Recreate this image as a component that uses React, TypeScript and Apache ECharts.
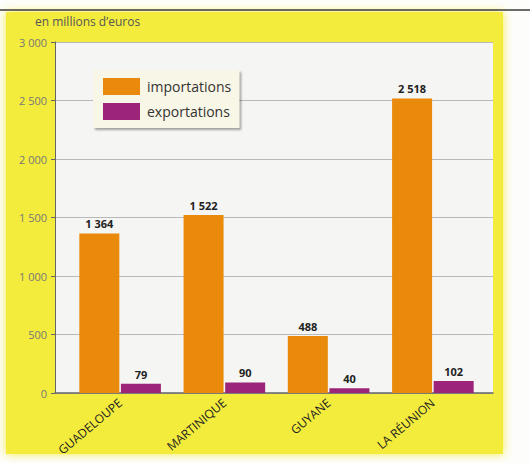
import React, { useEffect, useRef } from "react";
import * as echarts from "echarts";

const categories = ["GUADELOUPE", "MARTINIQUE", "GUYANE", "LA RÉUNION"];
const importations = [1364, 1522, 488, 2518];
const exportations = [79, 90, 40, 102];
const seriesNames = ["importations", "exportations"];
const unitLabel = "en millions d’euros";
const yMin = 0;
const yMax = 3000;
const yStep = 500;

const FONT = "'Open Sans', 'Noto Sans', sans-serif";

function fmt(v: number): string {
  return String(v).replace(/\B(?=(\d{3})+(?!\d))/g, " ");
}

export default function App() {
  const ref = useRef<HTMLDivElement>(null);

  useEffect(() => {
    if (!ref.current) return;
    const chart = echarts.init(ref.current, undefined, { renderer: "svg" });
    chart.setOption({
      animation: false,
      backgroundColor: "#FDFDFB",
      textStyle: { fontFamily: FONT },
      graphic: [
        {
          type: "rect",
          z: -10,
          shape: { x: 6, y: 12, width: 497, height: 442 },
          style: { fill: "#F4EC3C", shadowBlur: 10, shadowColor: "#F4EC3C" },
        },
        {
          type: "line",
          z: 10,
          shape: { x1: 0, y1: 10, x2: 530, y2: 10 },
          style: { stroke: "#3a3a3a", lineWidth: 1.5 },
        },
        {
          type: "text",
          z: 10,
          x: 35,
          y: 15,
          style: { text: unitLabel, fontSize: 12, fill: "#555", fontFamily: FONT },
        },
      ],
      legend: {
        data: seriesNames,
        orient: "vertical",
        left: 93,
        top: 70,
        itemWidth: 37,
        itemHeight: 17,
        itemGap: 8,
        padding: [8, 8, 8, 10],
        icon: "rect",
        backgroundColor: "#F8F6E6",
        shadowColor: "rgba(0,0,0,0.35)",
        shadowBlur: 2,
        shadowOffsetX: 2,
        shadowOffsetY: 2,
        textStyle: { fontSize: 14, color: "#333", fontFamily: FONT, padding: [0, 0, 0, 2] },
      },
      grid: [
        { left: 55, right: 37, top: 42, bottom: 70, show: true, backgroundColor: "#F5F5F3", borderWidth: 0, containLabel: false, outerBoundsMode: "none" },
        { left: 68, right: 45, top: 42, bottom: 70, containLabel: false, outerBoundsMode: "none" },
      ],
      xAxis: [
        {
          type: "category",
          gridIndex: 0,
          data: categories,
          axisLine: { lineStyle: { color: "#666", width: 1.5 } },
          axisTick: { show: false },
          axisLabel: { show: false },
        },
        {
          type: "category",
          gridIndex: 1,
          data: categories,
          axisLine: { show: false },
          axisTick: { show: false },
          axisLabel: { rotate: 40, margin: 8, fontSize: 12, color: "#222", fontFamily: FONT },
        },
      ],
      yAxis: [
        {
          type: "value",
          gridIndex: 0,
          min: yMin,
          max: yMax,
          interval: yStep,
          axisLine: { show: true, lineStyle: { color: "#666", width: 1 } },
          axisTick: { show: true, length: 4, lineStyle: { color: "#666" } },
          axisLabel: { formatter: (v: number) => fmt(v), fontSize: 11, color: "#777", margin: 8, fontFamily: FONT },
          splitLine: { show: true, lineStyle: { color: "#B8B8B8", width: 1 } },
        },
        {
          type: "value",
          gridIndex: 1,
          min: yMin,
          max: yMax,
          interval: yStep,
          show: false,
          splitLine: { show: false },
        },
      ],
      series: [
        {
          name: seriesNames[0],
          type: "bar",
          xAxisIndex: 1,
          yAxisIndex: 1,
          data: importations,
          barWidth: 40,
          barGap: "4%",
          itemStyle: { color: "#E98A0C" },
          label: {
            show: true,
            position: "top",
            distance: 4,
            formatter: (p: any) => fmt(p.value),
            fontWeight: "bold",
            fontSize: 11,
            color: "#222",
            fontFamily: FONT,
          },
        },
        {
          name: seriesNames[1],
          type: "bar",
          xAxisIndex: 1,
          yAxisIndex: 1,
          data: exportations,
          barWidth: 40,
          barGap: "4%",
          itemStyle: { color: "#9C2479" },
          label: {
            show: true,
            position: "top",
            distance: 4,
            formatter: (p: any) => fmt(p.value),
            fontWeight: "bold",
            fontSize: 11,
            color: "#222",
            fontFamily: FONT,
          },
        },
      ],
    });
    return () => chart.dispose();
  }, []);

  return (
    <div
      ref={ref}
      style={{ position: "fixed", left: 0, top: 0, width: 530, height: 463 }}
    />
  );
}
